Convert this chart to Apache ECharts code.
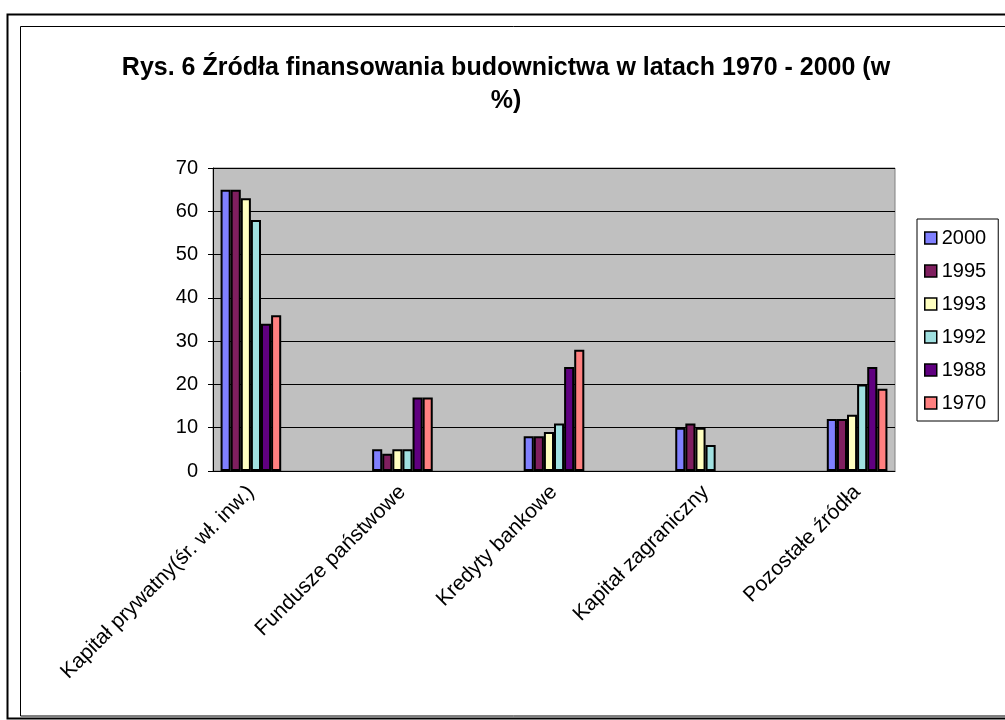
<!DOCTYPE html>
<html>
<head>
<meta charset="utf-8">
<script src="https://cdn.jsdelivr.net/npm/echarts@6/dist/echarts.min.js"></script>
<style>
    html, body { margin: 0; padding: 0; background: #fff; }
    #chart { width: 1005px; height: 720px; }
</style>
</head>
<body>
<div id="chart"></div>
<script>
    // kategorie (puste pozycje rozdzielają grupy jak w oryginale z Excela)
    const categories = [
        'Kapitał prywatny(śr. wł. inw.)', '',
        'Fundusze państwowe', '',
        'Kredyty bankowe', '',
        'Kapitał zagraniczny', '',
        'Pozostałe źródła'
    ];
    const years = ['2000', '1995', '1993', '1992', '1988', '1970'];

    const v2000 = [65, null, 5, null, 8, null, 10, null, 12];
    const v1995 = [65, null, 4, null, 8, null, 11, null, 12];
    const v1993 = [63, null, 5, null, 9, null, 10, null, 13];
    const v1992 = [58, null, 5, null, 11, null, 6, null, 20];
    const v1988 = [34, null, 17, null, 24, null, null, null, 24];
    const v1970 = [36, null, 17, null, 28, null, null, null, 19];

    const yTicks = [0, 10, 20, 30, 40, 50, 60, 70];

    const seriesValues = [v2000, v1995, v1993, v1992, v1988, v1970];
    const colors = ['#8080FF', '#7F1F5F', '#FFFFC0', '#A0E0E0', '#600080', '#FF8080'];

    const font = 'Arial, "Liberation Sans", sans-serif';

    let mChart = echarts.init(document.getElementById('chart'));
    let options = {
        animation: false,
        backgroundColor: '#fff',
        title: {
            text: 'Rys. 6 Źródła finansowania budownictwa w latach 1970 - 2000 (w\n%)',
            left: 506,
            top: 52,
            padding: 0,
            textAlign: 'center',
            textStyle: {
                fontFamily: font,
                fontSize: 25,
                fontWeight: 'bold',
                color: '#000',
                lineHeight: 33
            }
        },
        legend: {
            orient: 'vertical',
            left: 917,
            top: 219,
            padding: [9, 12, 8, 7],
            itemGap: 13,
            itemWidth: 12,
            itemHeight: 12,
            icon: 'rect',
            borderColor: '#000',
            borderWidth: 1,
            backgroundColor: '#fff',
            itemStyle: { borderColor: '#000', borderWidth: 1.5 },
            textStyle: { fontFamily: font, fontSize: 20, color: '#000', lineHeight: 20 },
            data: years
        },
        grid: {
            left: 213,
            right: 110,
            top: 168,
            bottom: 249,
            show: true,
            backgroundColor: '#C0C0C0',
            borderColor: '#808080',
            borderWidth: 1
        },
        xAxis: {
            type: 'category',
            data: categories,
            axisLine: { lineStyle: { color: '#000', width: 1 } },
            axisTick: { interval: 0, length: 5, lineStyle: { color: '#000' } },
            axisLabel: {
                interval: 0,
                rotate: 45,
                margin: 18,
                fontFamily: font,
                fontSize: 21,
                color: '#000'
            }
        },
        yAxis: {
            type: 'value',
            min: yTicks[0],
            max: yTicks[yTicks.length - 1],
            interval: 10,
            axisLine: { show: true, lineStyle: { color: '#000', width: 1 } },
            axisTick: { show: true, length: 5, lineStyle: { color: '#000' } },
            splitLine: { show: true, lineStyle: { color: '#000', width: 1 } },
            axisLabel: {
                margin: 15,
                fontFamily: font,
                fontSize: 20,
                color: '#000'
            }
        },
        series: years.map((y, i) => ({
            name: y,
            type: 'bar',
            data: seriesValues[i],
            barGap: '0%',
            barCategoryGap: '20%',
            itemStyle: {
                color: colors[i],
                borderColor: '#000',
                borderWidth: 2
            }
        })),
        graphic: [
            {
                type: 'rect',
                shape: { x: 7.5, y: 14.5, width: 1010, height: 704 },
                style: { fill: null, stroke: '#000', lineWidth: 2 },
                silent: true
            },
            {
                type: 'rect',
                shape: { x: 20.5, y: 26.5, width: 1000, height: 689.5 },
                style: { fill: null, stroke: '#000', lineWidth: 1 },
                silent: true
            }
        ]
    };
    mChart.setOption(options);
</script>
</body>
</html>
